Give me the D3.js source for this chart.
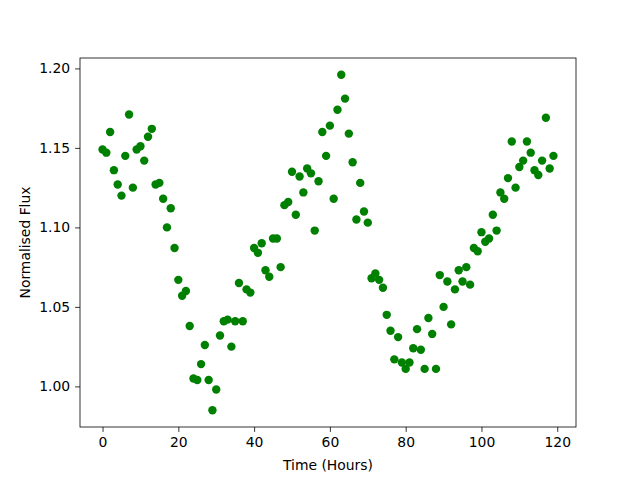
<!DOCTYPE html>
<html>
<head>
<meta charset="utf-8">
<script src="https://cdn.jsdelivr.net/npm/d3@7"></script>
<style>
body { margin: 0; background: #fff; }
text { font-family: "DejaVu Sans", sans-serif; }
</style>
</head>
<body>
<div id="chart"></div>
<script>
// flux values, one per hour from 0 to 119
var hours = d3.range(0, 120)
var flux = [
  1.149, 1.147, 1.160, 1.136, 1.127, 1.120, 1.145, 1.171, 1.125, 1.149,
  1.151, 1.142, 1.157, 1.162, 1.127, 1.128, 1.118, 1.100, 1.112, 1.087,
  1.067, 1.057, 1.060, 1.038, 1.005, 1.004, 1.014, 1.026, 1.004, 0.985,
  0.998, 1.032, 1.041, 1.042, 1.025, 1.041, 1.065, 1.041, 1.061, 1.059,
  1.087, 1.084, 1.090, 1.073, 1.069, 1.093, 1.093, 1.075, 1.114, 1.116,
  1.135, 1.108, 1.132, 1.122, 1.137, 1.134, 1.098, 1.129, 1.160, 1.145,
  1.164, 1.118, 1.174, 1.196, 1.181, 1.159, 1.141, 1.105, 1.128, 1.110,
  1.103, 1.068, 1.071, 1.067, 1.062, 1.045, 1.035, 1.017, 1.031, 1.015,
  1.011, 1.015, 1.024, 1.036, 1.023, 1.011, 1.043, 1.033, 1.011, 1.070,
  1.050, 1.066, 1.039, 1.061, 1.073, 1.066, 1.075, 1.064, 1.087, 1.085,
  1.097, 1.091, 1.093, 1.108, 1.098, 1.122, 1.118, 1.131, 1.154, 1.125,
  1.138, 1.142, 1.154, 1.147, 1.136, 1.133, 1.142, 1.169, 1.137, 1.145
]
var xTicks = [0, 20, 40, 60, 80, 100, 120]
var yTicks = [1.00, 1.05, 1.10, 1.15, 1.20]

var data = hours.map(function(h, i){ return {hour: h, flux: flux[i]} })

var margin = {left: 80, right: 64, top: 58, bottom: 53}
var width = 640 - margin.left - margin.right
var height = 480 - margin.top - margin.bottom

var svg = d3.select('#chart').append('svg')
  .attr('width', 640).attr('height', 480)

var g = svg.append('g')
  .attr('transform', 'translate(' + margin.left + ',' + margin.top + ')')

// matplotlib-style 5% padding around the data
var xPad = (d3.max(hours) - d3.min(hours)) * 0.05
var yExt = d3.extent(flux)
var yPad = (yExt[1] - yExt[0]) * 0.05

var x = d3.scaleLinear()
  .domain([d3.min(hours) - xPad, d3.max(hours) + xPad])
  .range([0, width])
var y = d3.scaleLinear()
  .domain([yExt[0] - yPad, yExt[1] + yPad])
  .range([height, 0])

g.selectAll('circle').data(data).enter().append('circle')
  .attr('cx', function(d){ return x(d.hour) })
  .attr('cy', function(d){ return y(d.flux) })
  .attr('r', 4.2)
  .attr('fill', '#008000')

var xAxis = d3.axisBottom(x).tickValues(xTicks).tickSize(4.9).tickPadding(4.9)
var yAxis = d3.axisLeft(y).tickValues(yTicks).tickFormat(d3.format('.2f')).tickSize(4.9).tickPadding(4.9)

g.append('g').attr('transform', 'translate(0,' + height + ')').call(xAxis)
g.append('g').call(yAxis)

g.selectAll('.domain').remove()
g.selectAll('.tick line').attr('stroke', '#000').attr('stroke-width', 0.8)
g.selectAll('.tick text').attr('font-size', 13.9).attr('font-family', 'DejaVu Sans').attr('fill', '#000')

g.append('rect')
  .attr('width', width).attr('height', height)
  .attr('fill', 'none').attr('stroke', '#000').attr('stroke-width', 0.8)

g.append('text')
  .attr('x', width / 2).attr('y', height + 43)
  .attr('text-anchor', 'middle').attr('font-size', 13.9)
  .text('Time (Hours)')

g.append('text')
  .attr('transform', 'translate(-50,' + height / 2 + ') rotate(-90)')
  .attr('text-anchor', 'middle').attr('font-size', 13.9)
  .text('Normalised Flux')
</script>
</body>
</html>
